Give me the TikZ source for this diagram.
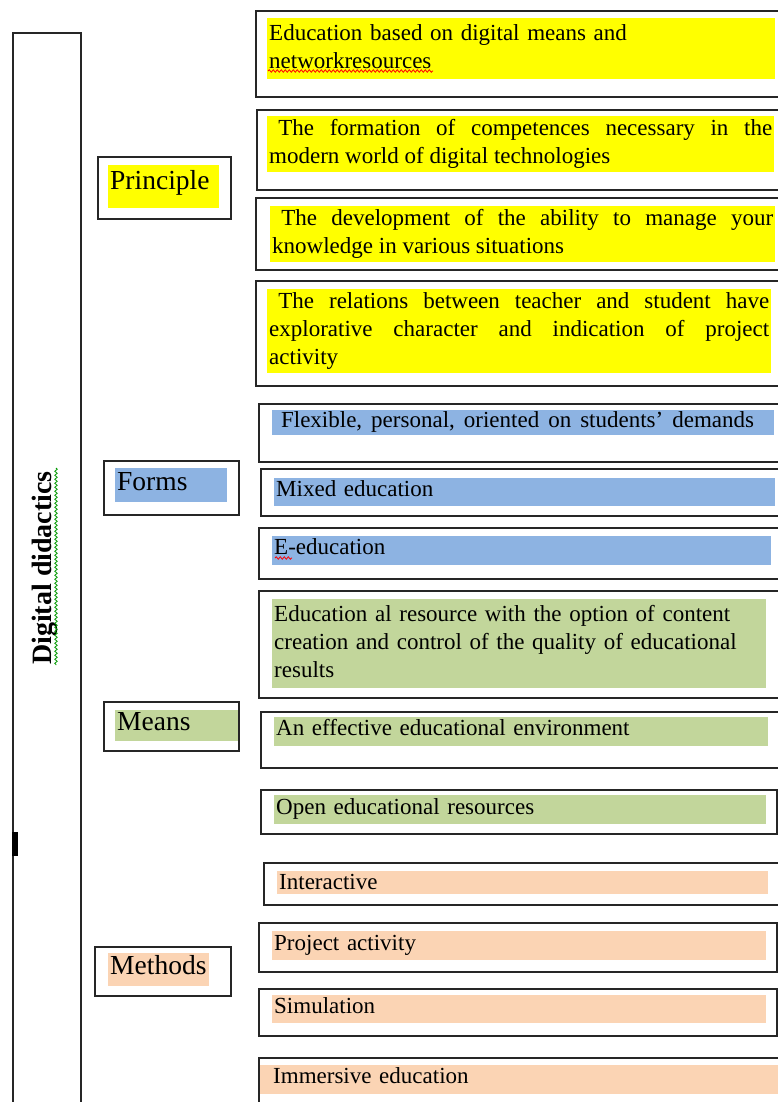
\documentclass[tikz,border=0pt]{standalone}
\usepackage{fontspec}
\setmainfont{Liberation Serif}
\usetikzlibrary{decorations.pathmorphing}
\definecolor{hlyellow}{HTML}{FFFF00}
\definecolor{hlblue}{HTML}{8DB3E2}
\definecolor{hlgreen}{HTML}{C2D69B}
\definecolor{hlpeach}{HTML}{FBD4B4}
\tikzset{
  boxframe/.style={draw=black!85, line width=2.2pt, anchor=north west, inner sep=0pt},
  hilite/.style={anchor=north west, inner xsep=2pt, inner ysep=0pt, align=left, font=\fontsize{23}{28}\selectfont},
  catmark/.style={anchor=north west, inner xsep=2pt, inner ysep=0pt, align=left, font=\fontsize{27.5}{32}\selectfont},
  squiggle/.style={line width=0.8pt, decorate, decoration={snake, amplitude=1.2pt, segment length=4pt}}
}
\begin{document}
\begin{tikzpicture}[x=1pt, y=-1pt]
\path[fill=white, use as bounding box] (0,0) rectangle (778,1102);
% left column
\node[boxframe, minimum width=68pt, minimum height=1080pt] (dd) at (12,32) {};
\fill (12,832) rectangle (18,856);
\node[font=\fontsize{28}{32}\selectfont\bfseries, rotate=90] (ddt) at (45,568) {Digital didactics};
\node[boxframe, minimum width=133pt, minimum height=62pt] (pr) at (97,156) {};
\node[boxframe, minimum width=135pt, minimum height=54pt] (fo) at (103,460) {};
\node[boxframe, minimum width=135pt, minimum height=49pt] (me) at (103,701) {};
\node[boxframe, minimum width=136pt, minimum height=49pt] (mt) at (94,946) {};
\node[catmark, fill=hlyellow, text width=107pt, text height=24pt, text depth=19pt] (prt) at (108,165) {Principle};
\node[catmark, fill=hlblue, text width=108pt, text height=22pt, text depth=12pt] (fot) at (115,468) {Forms};
\node[catmark, fill=hlgreen, text width=119pt, text height=20pt, text depth=11pt] (met) at (115,710) {Means};
\node[catmark, fill=hlpeach, text width=97pt, text height=21pt, text depth=12pt] (mtt) at (108,953) {Methods};
% principle
\node[boxframe, minimum width=523pt, minimum height=86pt] (p1) at (255,10) {};
\node[boxframe, minimum width=522pt, minimum height=80pt] (p2) at (256,109) {};
\node[boxframe, minimum width=523pt, minimum height=72pt] (p3) at (255,197) {};
\node[boxframe, minimum width=523pt, minimum height=105pt] (p4) at (255,280) {};
\node[hilite, fill=hlyellow, minimum height=61pt, text width=504pt] (p1t) at (267,18)
  {\strut Education based on digital means and\\networkresources\strut};
\node[hilite, fill=hlyellow, minimum height=56pt, text width=503pt, align=justify] (p2t) at (267,116)
  {\strut\hspace*{.4em}The formation of competences necessary in the\linebreak modern world of digital technologies\strut};
\node[hilite, fill=hlyellow, minimum height=54pt, text width=501pt, align=justify] (p3t) at (270,206)
  {\strut\hspace*{.4em}The development of the ability to manage your\linebreak knowledge in various situations\strut};
\node[hilite, fill=hlyellow, minimum height=82pt, text width=500pt, align=justify] (p4t) at (267,289)
  {\strut\hspace*{.4em}The relations between teacher and student have\linebreak explorative character and indication of project\linebreak activity\strut};
% forms
\node[boxframe, minimum width=520pt, minimum height=58pt] (f1) at (258,403) {};
\node[boxframe, minimum width=518pt, minimum height=47pt] (f2) at (260,468) {};
\node[boxframe, minimum width=520pt, minimum height=51pt] (f3) at (258,527) {};
\node[hilite, fill=hlblue, text width=498pt, text height=17pt, text depth=8pt] (f1t) at (272,410)
  {\spaceskip=9pt plus 1pt\hspace*{.3em}Flexible, personal, oriented on students’ demands};
\node[hilite, fill=hlblue, text width=497pt, text height=18pt, text depth=10pt] (f2t) at (274,478) {Mixed education};
\node[hilite, fill=hlblue, text width=495pt, text height=18.5pt, text depth=10.5pt] (f3t) at (272,536) {E-education};
% means
\node[boxframe, minimum width=520pt, minimum height=107pt] (m1) at (258,590) {};
\node[boxframe, minimum width=518pt, minimum height=56pt] (m2) at (260,711) {};
\node[boxframe, minimum width=516pt, minimum height=44pt] (m3) at (260,789) {};
\node[hilite, fill=hlgreen, minimum height=89pt, text width=490pt] (m1t) at (272,599)
  {\strut Education al resource with the option of content\\creation and control of the quality of educational\\results\strut};
\node[hilite, fill=hlgreen, text width=490pt, text height=18.5pt, text depth=10.5pt] (m2t) at (274,717) {An effective educational environment};
\node[hilite, fill=hlgreen, text width=488pt, text height=19pt, text depth=10pt] (m3t) at (274,795) {Open educational resources};
% methods
\node[boxframe, minimum width=515pt, minimum height=42pt] (t1) at (263,862) {};
\node[boxframe, minimum width=518pt, minimum height=49pt] (t2) at (258,922) {};
\node[boxframe, minimum width=518pt, minimum height=47pt] (t3) at (258,988) {};
\node[boxframe, minimum width=520pt, minimum height=55pt] (t4) at (258,1057) {};
\node[hilite, fill=hlpeach, text width=487pt, text height=18pt, text depth=5pt] (t1t) at (277,871) {Interactive};
\node[hilite, fill=hlpeach, text width=490pt, text height=19pt, text depth=10pt] (t2t) at (272,931) {Project activity};
\node[hilite, fill=hlpeach, text width=490pt, text height=18pt, text depth=10pt] (t3t) at (272,995) {Simulation};
\node[hilite, fill=hlpeach, inner xsep=13pt, text width=492pt, text height=18pt, text depth=11pt] (t4t) at (260,1065) {Immersive education};
% spelling marks
\draw[squiggle, red] (268,71) -- (433,71);
\draw[squiggle, red] (275,558) -- (292,558);
\draw[squiggle, green!60!black] (56,468) -- (56,665);
\end{tikzpicture}
\end{document}
